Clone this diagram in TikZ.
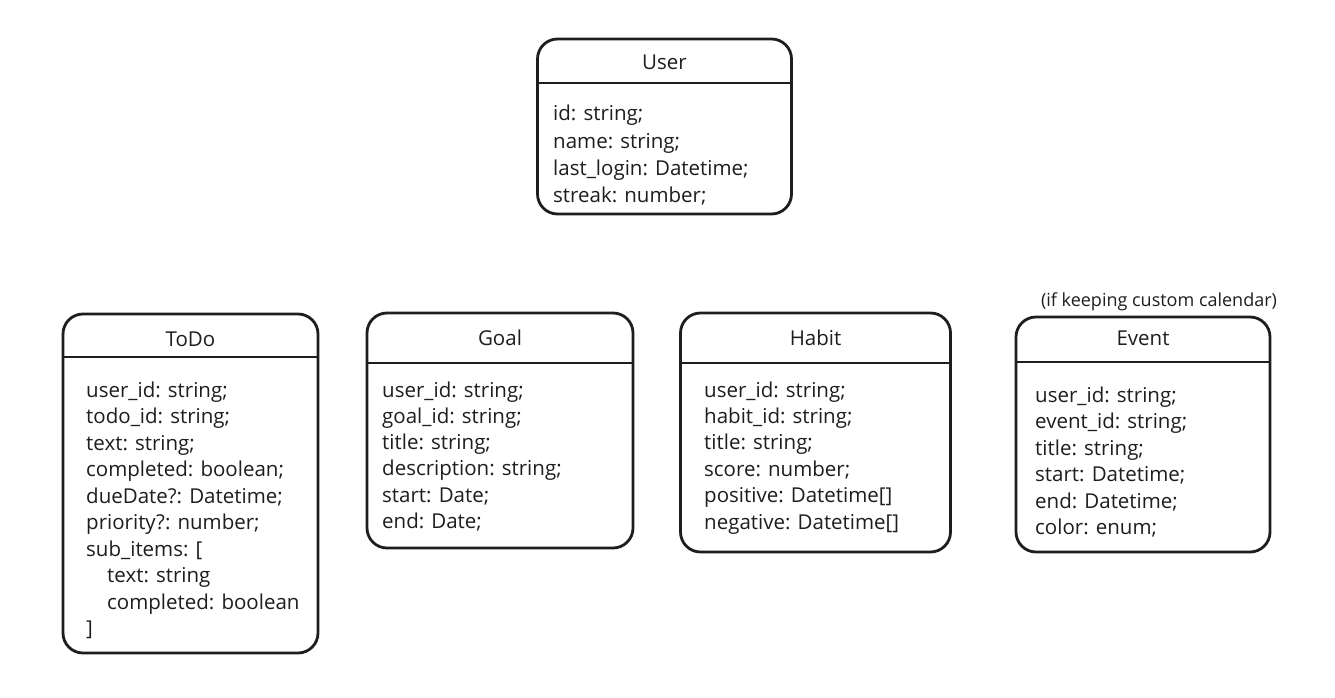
\documentclass[tikz,border=0pt]{standalone}
\usepackage{fontspec}
\setmainfont{Open Sans}
\definecolor{ink}{HTML}{1E1E1E}
\begin{document}
\begin{tikzpicture}[x=1pt,y=-1pt,
  box/.style={draw=ink, line width=2.8pt, rounded corners=20pt, inner sep=0pt, fill=white},
  hline/.style={draw=ink, line width=2.8pt},
  txt/.style={anchor=base west, inner sep=0pt, text=ink, font=\fontsize{20.5}{24}\selectfont},
  head/.style={anchor=base, inner sep=0pt, text=ink, font=\fontsize{20.5}{24}\selectfont},
  notestyle/.style={anchor=base, inner sep=0pt, text=ink, font=\fontsize{18}{22}\selectfont}]
\useasboundingbox (0,0) rectangle (1335,698);
% boxes
\node[box, minimum width=254pt, minimum height=175pt] (user) at (664.5,126.5) {};
\node[box, minimum width=255pt, minimum height=339pt] (todo) at (190.5,483.5) {};
\node[box, minimum width=266pt, minimum height=235pt] (goal) at (500,430.5) {};
\node[box, minimum width=270pt, minimum height=239pt] (habit) at (815.5,432.5) {};
\node[box, minimum width=254pt, minimum height=235pt] (event) at (1143,434.5) {};
% header separators
\coordinate (uy) at (0,83);
\coordinate (ty) at (0,357);
\coordinate (gy) at (0,363);
\coordinate (hy) at (0,363);
\coordinate (ey) at (0,362);
\draw[hline] (user.west |- uy) -- (user.east |- uy);
\draw[hline] (todo.west |- ty) -- (todo.east |- ty);
\draw[hline] (goal.west |- gy) -- (goal.east |- gy);
\draw[hline] (habit.west |- hy) -- (habit.east |- hy);
\draw[hline] (event.west |- ey) -- (event.east |- ey);
% headers
\node[head] (userh) at (664.5,70) {User};
\node[head] (todoh) at (190.5,346) {ToDo};
\node[head] (goalh) at (500,345.5) {Goal};
\node[head] (habith) at (815.5,345.5) {Habit};
\node[head] (eventh) at (1143,345) {Event};
\node[notestyle] (note) at (1159,306.5) {(if keeping custom calendar)};
% fields
\foreach \t [count=\i] in {{id: string;},{name: string;},{last\_login: Datetime;},{streak: number;}}
  \node[txt] (user-\i) at (553,{121+27.2*(\i-1)}) {\t};
\foreach \t [count=\i] in {{user\_id: string;},{todo\_id: string;},{text: string;},{completed: boolean;},{dueDate?: Datetime;},{priority?: number;},{sub\_items: [},{\hspace*{21pt}text: string},{\hspace*{21pt}completed: boolean},{]}}
  \node[txt] (todo-\i) at (86,{397+26.5*(\i-1)}) {\t};
\foreach \t [count=\i] in {{user\_id: string;},{goal\_id: string;},{title: string;},{description: string;},{start: Date;},{end: Date;}}
  \node[txt] (goal-\i) at (382,{397+26.3*(\i-1)}) {\t};
\foreach \t [count=\i] in {{user\_id: string;},{habit\_id: string;},{title: string;},{score: number;},{positive: Datetime[]},{negative: Datetime[]}}
  \node[txt] (habit-\i) at (704,{397+26.4*(\i-1)}) {\t};
\foreach \t [count=\i] in {{user\_id: string;},{event\_id: string;},{title: string;},{start: Datetime;},{end: Datetime;},{color: enum;}}
  \node[txt] (event-\i) at (1035,{402+26.5*(\i-1)}) {\t};
\end{tikzpicture}
\end{document}
